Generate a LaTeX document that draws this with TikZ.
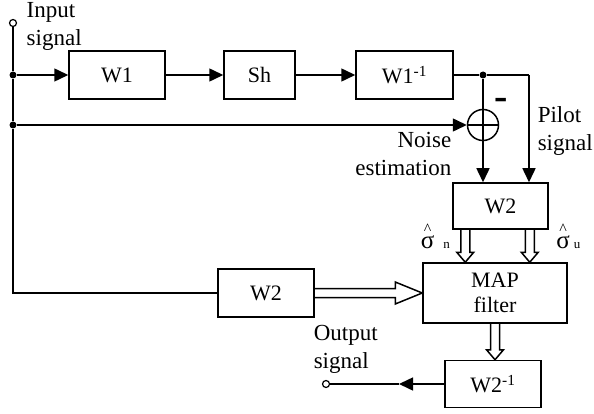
\documentclass[tikz,border=0pt]{standalone}
\usepackage{fontspec}
\setmainfont{Liberation Serif}
\usetikzlibrary{arrows.meta,calc}
\begin{document}
\begin{tikzpicture}[x=1pt,y=-1pt,line width=1.5pt,
  blk/.style={draw, line width=1.5pt, minimum height=48pt, minimum width=96pt, inner sep=0pt, font=\fontsize{22}{25}\selectfont, align=center},
  lbl/.style={font=\fontsize{23}{28}\selectfont, inner sep=0pt},
  arr/.style={-{Triangle[length=14pt,width=13pt]}},
  dotn/.style={circle, fill, inner sep=0pt, minimum size=7pt},
  term/.style={circle, draw, fill=white, line width=1.2pt, inner sep=0pt, minimum size=7pt},
  siglbl/.style={anchor=south, inner sep=0pt, align=center},
  sublbl/.style={anchor=base, inner sep=0pt, font=\fontsize{13}{13}\selectfont},
  hollowdown/.style={to path={let \p1=(\tikztostart), \p2=(\tikztotarget) in
    (\x1-4.5pt,\y1) -- (\x1-4.5pt,\y2+10pt) -- (\x1-8.5pt,\y2+10pt) -- (\x1,\y2) -- (\x1+8.5pt,\y2+10pt) -- (\x1+4.5pt,\y2+10pt) -- (\x1+4.5pt,\y1)}},
  hollowright/.style={to path={let \p1=(\tikztostart), \p2=(\tikztotarget) in
    (\x1,\y1+4.5pt) -- (\x2-27pt,\y1+4.5pt) -- (\x2-27pt,\y1+11pt) -- (\x2,\y1) -- (\x2-27pt,\y1-11pt) -- (\x2-27pt,\y1-4.5pt) -- (\x1,\y1-4.5pt)}}]
\useasboundingbox (0,0) rectangle (594,414);

% blocks
\node[blk] (w1) at (117,75) {W1};
\node[blk, minimum width=71pt] (sh) at (259.5,75) {Sh};
\node[blk, minimum width=97pt] (w1i) at (404.5,75) {W1\textsuperscript{-1}};
\node[blk, minimum width=95pt, minimum height=46pt] (w2t) at (500.5,206) {W2};
\node[blk, minimum width=144pt, minimum height=60pt] (map) at (495,293) {MAP\\filter};
\node[blk] (w2b) at (266,293) {W2};
\node[blk, minimum height=47pt] (w2i) at (493,384) {W2\textsuperscript{-1}};

% junctions and terminals
\node[term] (in) at (13,23) {};
\node[dotn] (d1) at (13,75) {};
\node[dotn] (d2) at (13,125) {};
\node[dotn] (d3) at (483,75) {};
\coordinate (c1) at (in |- w2b.west);
\coordinate (c2) at (529,75);
\node[term] (out) at (326,384) {};
\coordinate (am) at (399,384);
\node[circle, draw, minimum size=31pt, inner sep=0pt] (sum) at (483,125) {};

% connectors
\draw (in) -- (d1) -- (d2) -- (c1) -- (w2b.west);
\draw[arr] (d1) -- (w1);
\draw[arr] (w1) -- (sh);
\draw[arr] (sh) -- (w1i);
\draw (w1i) -- (d3) -- (c2);
\draw[arr] (c2) -- (c2 |- w2t.north);
\draw (d3) -- (sum);
\draw (sum.north) -- (sum.south) (sum.west) -- (sum.east);
\draw[arr] (sum) -- (sum |- w2t.north);
\draw[arr] (d2) -- (sum);
\draw ([xshift=13pt]w2t.south west) to[hollowdown] ([xshift=13pt]w2t.south west |- map.north);
\draw ([xshift=-19pt]w2t.south east) to[hollowdown] ([xshift=-19pt]w2t.south east |- map.north);
\draw (w2b.east) to[hollowright] (w2b.east -| map.west);
\draw (map.south) to[hollowdown] (map.south |- w2i.north);
\draw[arr] (w2i) -- (am);
\draw (am) -- (out);

% labels
\node[lbl, anchor=north west, align=left] (tin) at (26,2) {Input\\signal};
\node[lbl, anchor=north east, align=right] (tnoise) at (452,132) {Noise\\estimation};
\node[lbl, anchor=north west, align=left] (tpilot) at (537,106) {Pilot\\signal};
\node[lbl, anchor=north west, align=left] (tout) at (313,325) {Output\\signal};
\node[anchor=base, inner sep=0pt, font=\fontsize{40}{40}\selectfont\bfseries] (minus) at (501,110) {-};
\node[siglbl] (s1) at (427.5,249.3) {\lineskiplimit=-20pt\fontsize{16}{12.5}\selectfont\textasciicircum\\\fontsize{25}{12.5}\selectfont σ};
\node[sublbl] (n1) at (446.5,248) {n};
\node[siglbl] (s2) at (563,249.3) {\lineskiplimit=-20pt\fontsize{16}{12.5}\selectfont\textasciicircum\\\fontsize{25}{12.5}\selectfont σ};
\node[sublbl] (u2) at (577,248) {u};
\end{tikzpicture}
\end{document}
